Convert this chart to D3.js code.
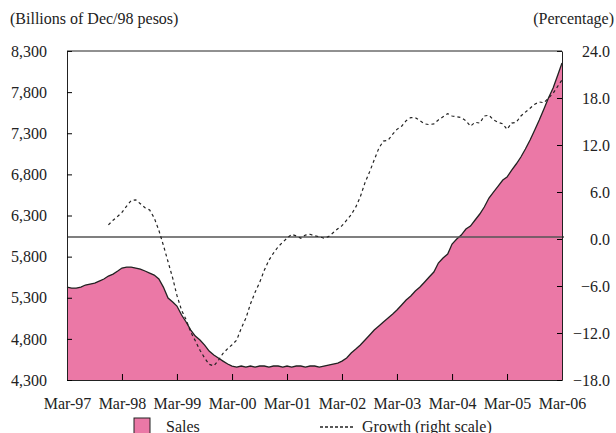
<!DOCTYPE html>
<meta charset="utf-8">
<head>
    <script type="text/javascript" src="https://cdn.jsdelivr.net/npm/d3@7"></script>
    <style>
        body { margin: 0; background: #fff; }
        text { font-family: "Liberation Serif", "Times New Roman", serif; fill: #222; }
    </style>
</head>
<body>
<div id="chart"></div>
<script>
    // monthly data, Mar-97 .. Mar-06
    var startMonth = new Date(1997, 2, 1);
    var endMonth = new Date(2006, 2, 1);

    // sales, billions of Dec/98 pesos
    var sales = [
        5430, 5418, 5418, 5430, 5455, 5467, 5479, 5503, 5528, 5564, 5588, 5625,
        5661, 5673, 5673, 5661, 5649, 5625, 5600, 5576, 5528, 5430, 5297, 5248,
        5199, 5090, 5005, 4907, 4834, 4786, 4725, 4652, 4603, 4567, 4530, 4494,
        4470, 4457, 4470, 4457, 4470, 4457, 4470, 4470, 4457, 4470, 4470, 4457,
        4470, 4457, 4470, 4470, 4457, 4470, 4470, 4457, 4470, 4482, 4494, 4506,
        4530, 4567, 4628, 4676, 4725, 4786, 4847, 4907, 4956, 5005, 5053, 5102,
        5151, 5212, 5272, 5321, 5382, 5430, 5491, 5552, 5613, 5722, 5783, 5832,
        5953, 6014, 6062, 6135, 6172, 6245, 6318, 6403, 6512, 6585, 6658, 6731,
        6768, 6853, 6926, 7011, 7108, 7218, 7339, 7461, 7595, 7729, 7850, 8008,
        8154
    ];

    // growth, %, starts Dec-97 (null before)
    var growth = [
        null, null, null, null, null, null, null, null, null, 1.8, 2.4, 2.9,
        3.4, 4.2, 4.9, 5.0, 4.5, 4.0, 3.7, 2.7, 1.1, -0.8, -2.9, -5.0,
        -7.2, -9.1, -10.3, -11.9, -13.0, -14.2, -15.2, -16.0, -16.2, -15.5, -14.6, -14.0,
        -13.5, -12.9, -11.4, -10.1, -8.3, -6.8, -5.5, -4.0, -2.7, -1.8, -1.0, -0.4,
        0.1, 0.6, 0.4, 0.1, 0.5, 0.6, 0.4, 0.3, 0.1, 0.3, 0.8, 1.3,
        1.7, 2.4, 3.1, 4.1, 5.4, 7.2, 8.6, 10.1, 11.6, 12.5, 12.6, 13.4,
        14.0, 14.4, 15.1, 15.5, 15.5, 15.1, 14.7, 14.6, 14.7, 15.2, 15.6, 16.0,
        15.7, 15.6, 15.5, 15.1, 14.4, 14.9, 14.8, 15.7, 15.8, 15.2, 14.9, 14.7,
        14.0, 14.8, 14.9, 15.7, 16.2, 16.7, 17.2, 17.5, 17.4, 18.0, 18.6, 19.5,
        20.3
    ];

    var leftTicks = [4300, 4800, 5300, 5800, 6300, 6800, 7300, 7800, 8300];
    var rightTicks = [-18, -12, -6, 0, 6, 12, 18, 24];
    var xTickLabels = ["Mar-97", "Mar-98", "Mar-99", "Mar-00", "Mar-01", "Mar-02",
        "Mar-03", "Mar-04", "Mar-05", "Mar-06"];

    var w = 616, h = 433;
    var plot = {left: 67, right: 562, top: 51, bottom: 380};
    var fs = 16;

    var months = d3.timeMonth.range(startMonth, d3.timeMonth.offset(endMonth, 1));
    var rows = months.map((d, i) => ({date: d, sales: sales[i], growth: growth[i]}));

    var svg = d3.select("#chart").append("svg")
        .attr("width", w).attr("height", h);

    var x = d3.scaleTime().domain([startMonth, endMonth]).range([plot.left, plot.right]);
    var yL = d3.scaleLinear().domain([4300, 8300]).range([plot.bottom, plot.top]);
    var yR = d3.scaleLinear().domain([-18, 24]).range([plot.bottom, plot.top]);

    // sales area
    var area = d3.area()
        .x(d => x(d.date))
        .y0(yL(4300))
        .y1(d => yL(d.sales));
    svg.append("path").datum(rows)
        .attr("d", area)
        .attr("fill", "#eb78a6");
    svg.append("path").datum(rows)
        .attr("d", d3.line().x(d => x(d.date)).y(d => yL(d.sales)))
        .attr("fill", "none")
        .attr("stroke", "#222")
        .attr("stroke-width", 1.3);

    // zero line of right scale
    svg.append("line")
        .attr("x1", plot.left).attr("x2", plot.right + 2)
        .attr("y1", yR(0) - 2).attr("y2", yR(0) - 2)
        .attr("stroke", "#555").attr("stroke-width", 1.5);

    // growth
    svg.append("path").datum(rows)
        .attr("d", d3.line().defined(d => d.growth !== null)
            .x(d => x(d.date)).y(d => yR(d.growth)))
        .attr("fill", "none")
        .attr("stroke", "#222")
        .attr("stroke-width", 1.2)
        .attr("stroke-dasharray", "3,3");

    // axes
    var xTicks = xTickLabels.map((t, i) => d3.timeYear.offset(startMonth, i));
    svg.append("g")
        .attr("transform", "translate(0," + plot.bottom + ")")
        .call(d3.axisBottom(x).tickValues(xTicks)
            .tickFormat((d, i) => xTickLabels[i])
            .tickSizeInner(-6).tickSizeOuter(0).tickPadding(18))
        .call(g => g.selectAll("text").attr("font-size", fs).style("font-family", "Liberation Serif"))
        .call(g => g.select(".domain").attr("stroke", "#222"));

    svg.append("g")
        .attr("transform", "translate(" + plot.left + ",0)")
        .call(d3.axisLeft(yL).tickValues(leftTicks)
            .tickFormat(d3.format(","))
            .tickSizeInner(-5).tickSizeOuter(0).tickPadding(20))
        .call(g => g.selectAll("text").attr("font-size", fs).style("font-family", "Liberation Serif"))
        .call(g => g.select(".domain").attr("stroke", "#222"));

    svg.append("g")
        .attr("transform", "translate(" + plot.right + ",0)")
        .call(d3.axisRight(yR).tickValues(rightTicks)
            .tickFormat(d3.format(".1f"))
            .tickSizeInner(-5).tickSizeOuter(0).tickPadding(14))
        .call(g => g.selectAll("text").attr("font-size", fs).attr("x", 48)
            .attr("text-anchor", "end").style("font-family", "Liberation Serif"))
        .call(g => g.select(".domain").attr("stroke", "#222"));

    // top border
    svg.append("line")
        .attr("x1", plot.left).attr("x2", plot.right)
        .attr("y1", plot.top).attr("y2", plot.top)
        .attr("stroke", "#222");

    // unit labels
    svg.append("text").attr("x", 10).attr("y", 24)
        .attr("font-size", fs).text("(Billions of Dec/98 pesos)");
    svg.append("text").attr("x", 614).attr("y", 24)
        .attr("font-size", fs).attr("text-anchor", "end").text("(Percentage)");

    // legend
    var lg = svg.append("g");
    lg.append("rect").attr("x", 134).attr("y", 418).attr("width", 16).attr("height", 16)
        .attr("fill", "#eb78a6").attr("stroke", "#222").attr("stroke-width", 1);
    lg.append("text").attr("x", 166).attr("y", 432).attr("font-size", fs).text("Sales");
    lg.append("line").attr("x1", 320).attr("x2", 354).attr("y1", 427).attr("y2", 427)
        .attr("stroke", "#222").attr("stroke-width", 1.3).attr("stroke-dasharray", "3,2");
    lg.append("text").attr("x", 362).attr("y", 432).attr("font-size", fs).text("Growth (right scale)");
</script>
</body>
